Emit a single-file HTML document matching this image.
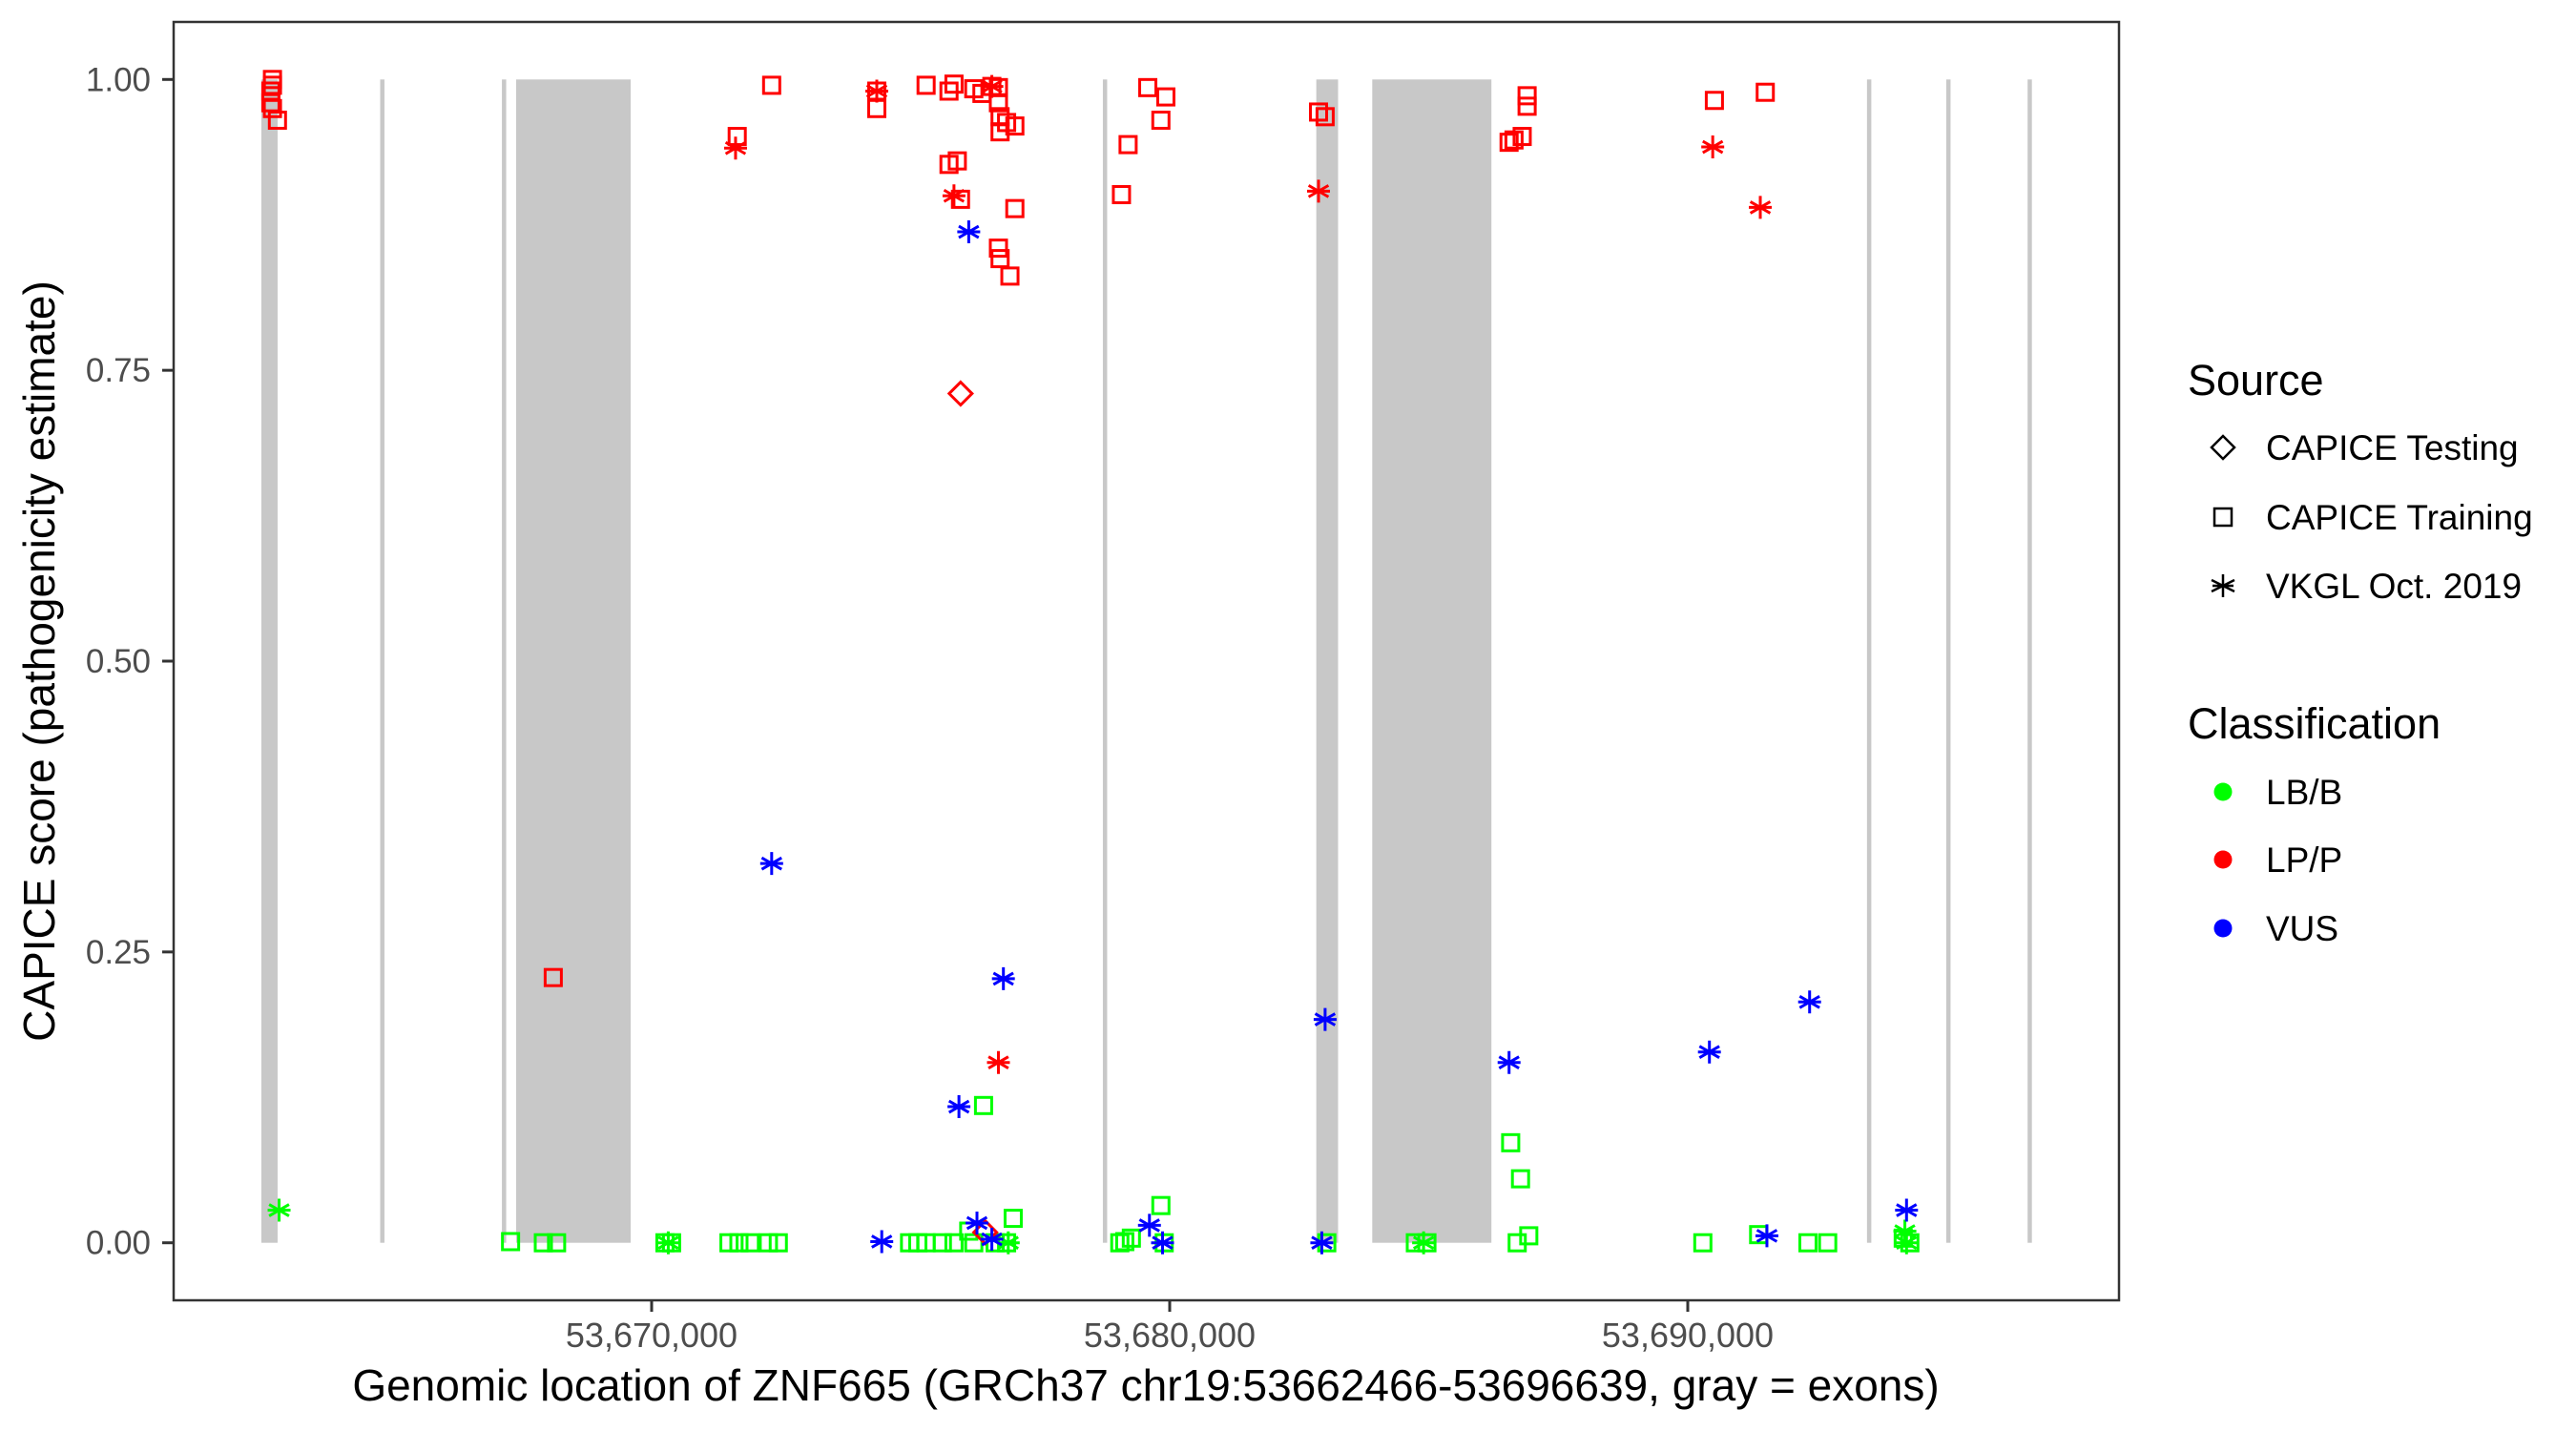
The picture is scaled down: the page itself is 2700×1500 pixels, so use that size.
<!DOCTYPE html>
<html><head><meta charset="utf-8">
<style>
html,body{margin:0;padding:0;background:#fff;}
svg{display:block;font-family:"Liberation Sans",Arial,sans-serif;}
</style></head>
<body>
<svg id="chart" width="2700" height="1500" viewBox="0 0 2700 1500" xmlns="http://www.w3.org/2000/svg">
  <rect x="0" y="0" width="2700" height="1500" fill="#fff"/>
  <g id="exons"></g>
  <g id="points"></g>
  <rect x="182" y="23" width="2039" height="1340" fill="none" stroke="#333" stroke-width="2.5"/>
  <g id="yaxis"></g>
  <g id="xaxis"></g>
  <text x="1201" y="1468" font-size="46" text-anchor="middle" fill="#000">Genomic location of ZNF665 (GRCh37 chr19:53662466-53696639, gray = exons)</text>
  <text transform="translate(57,693) rotate(-90)" font-size="46" text-anchor="middle" fill="#000">CAPICE score (pathogenicity estimate)</text>
  <g id="legend">
    <text x="2293" y="414" font-size="45" fill="#000">Source</text>
    <g>
      <path d="M2330 457 L2342 469 L2330 481 L2318 469 Z" fill="none" stroke="#000" stroke-width="2.5"/>
      <text x="2375" y="482" font-size="37" fill="#000">CAPICE Testing</text>
    </g>
    <g>
      <rect x="2321" y="533" width="18" height="18" fill="none" stroke="#000" stroke-width="2.5"/>
      <text x="2375" y="555" font-size="37" fill="#000">CAPICE Training</text>
    </g>
    <g>
      <path d="M2330 602 V626 M2318 608 L2342 620 M2318 620 L2342 608 M2319 614 H2341" stroke="#000" stroke-width="2.5"/>
      <text x="2375" y="627" font-size="37" fill="#000">VKGL Oct. 2019</text>
    </g>
    <text x="2293" y="774" font-size="45" fill="#000">Classification</text>
    <g>
      <circle cx="2330" cy="830" r="9.5" fill="#00FF00"/>
      <text x="2375" y="843" font-size="37" fill="#000">LB/B</text>
    </g>
    <g>
      <circle cx="2330" cy="901" r="9.5" fill="#FF0000"/>
      <text x="2375" y="914" font-size="37" fill="#000">LP/P</text>
    </g>
    <g>
      <circle cx="2330" cy="973" r="9.5" fill="#0000FF"/>
      <text x="2375" y="986" font-size="37" fill="#000">VUS</text>
    </g>
  </g>
</svg>
<script>
// ---- data ----
const xTicks = [53670000, 53680000, 53690000];
const xTickLabels = ["53,670,000", "53,680,000", "53,690,000"];
const yTicks = [0, 0.25, 0.5, 0.75, 1];
const yTickLabels = ["0.00", "0.25", "0.50", "0.75", "1.00"];
const exonStarts = [53662466, 53664760, 53667110, 53667385, 53678710, 53682830, 53683910, 53693460, 53694990, 53696560];
const exonEnds   = [53662780, 53664840, 53667150, 53669595, 53678790, 53683250, 53686210, 53693540, 53695070, 53696639];

// LP/P squares (training)
const lpSquarePos = [53662681,53662681,53662650,53662650,53662681,53662777,53671652,53672317,53674346,53674346,53675298,53675740,53675836,53676218,53676376,53676567,53676694,53676694,53676726,53676852,53677011,53676726,53675740,53675900,53675962,53677011,53676694,53676726,53676916,53668101,53679069,53679197,53679577,53679830,53679926,53682873,53683000,53686551,53686646,53686804,53686899,53686899,53690514,53691496];
const lpSquareScore = [1.0,0.995,0.99,0.98,0.975,0.965,0.951,0.995,0.99,0.975,0.995,0.99,0.996,0.992,0.988,0.994,0.993,0.98,0.968,0.963,0.96,0.955,0.927,0.93,0.897,0.889,0.855,0.846,0.831,0.228,0.901,0.944,0.993,0.965,0.985,0.972,0.968,0.946,0.948,0.951,0.986,0.977,0.982,0.989];
// LP/P stars (VKGL)
const lpStarPos = [53671620,53674346,53675836,53676567,53676694,53682873,53690482,53691400];
const lpStarScore = [0.941,0.99,0.9,0.994,0.155,0.904,0.942,0.89];
// LP/P diamonds (testing)
const lpDiamondPos = [53675964,53676439];
const lpDiamondScore = [0.73,0.009];
// VUS stars
const vusStarPos = [53676121,53672317,53676790,53675932,53676280,53676567,53674442,53679609,53679862,53682936,53683000,53686551,53690418,53692352,53691528,53694223];
const vusStarScore = [0.869,0.326,0.227,0.117,0.017,0.003,0.001,0.015,0.0,0.0,0.192,0.155,0.164,0.207,0.006,0.028];
// LB/B stars
const lbStarPos = [53662809,53670321,53676884,53684901,53694191,53694223];
const lbStarScore = [0.028,0.0,0.0,0.0,0.01,0.0];
// LB/B squares
const lbSquarePos = [53667277,53667910,53668165,53670257,53670385,53671493,53671685,53671903,53672254,53672445,53674979,53675138,53675298,53675612,53675836,53676121,53676218,53676407,53676631,53676852,53676979,53679037,53679133,53679260,53679830,53679894,53683032,53684742,53684965,53686582,53686772,53686708,53686931,53690291,53691368,53692320,53692701,53694159,53694287];
const lbSquareScore = [0.001,0.0,0.0,0.0,0.0,0.0,0.0,0.0,0.0,0.0,0.0,0.0,0.0,0.0,0.0,0.01,0.0,0.118,0.0,0.0,0.021,0.0,0.001,0.004,0.032,0.0,0.0,0.0,0.0,0.086,0.055,0.0,0.006,0.0,0.007,0.0,0.0,0.004,0.0];

// ---- scales ----
const NS = "http://www.w3.org/2000/svg";
const X0 = 53670000, XPX0 = 683, XK = 543/10000;
function sx(g){ return XPX0 + (g - X0) * XK; }
const Y0PX = 1302.7, YSPAN = 1219.4;
function sy(v){ return Y0PX - v * YSPAN; }
function mk(tag, attrs, parent){
  const e = document.createElementNS(NS, tag);
  for (const k in attrs) e.setAttribute(k, attrs[k]);
  parent.appendChild(e);
  return e;
}

// exons
const exG = document.getElementById('exons');
for (let i = 0; i < exonStarts.length; i++) {
  const x1 = sx(exonStarts[i]), x2 = sx(exonEnds[i]);
  const w = Math.max(x2 - x1, 4.5);
  const r = mk('rect', {x: x1, y: sy(1), width: w, height: sy(0) - sy(1), fill: '#c8c8c8'}, exG);
  
  
}

// axes
const yG = document.getElementById('yaxis');
yTicks.forEach((v, i) => {
  const y = sy(v);
  const t = mk('line', {x1: 170, x2: 182, y1: y, y2: y, stroke: '#333', 'stroke-width': 3}, yG);
  
  
  const l = mk('text', {x: 158, y: y + 12, 'font-size': 35, 'text-anchor': 'end', fill: '#4d4d4d'}, yG);
  l.textContent = yTickLabels[i];
  
  
});
const xG = document.getElementById('xaxis');
xTicks.forEach((v, i) => {
  const x = sx(v);
  const t = mk('line', {x1: x, x2: x, y1: 1363, y2: 1375, stroke: '#333', 'stroke-width': 3}, xG);
  
  
  const l = mk('text', {x: x, y: 1412, 'font-size': 36, 'text-anchor': 'middle', fill: '#4d4d4d'}, xG);
  l.textContent = xTickLabels[i];
  
  
});

// markers
const pG = document.getElementById('points');
function square(x, y, c){
  return mk('rect', {x: x - 8.5, y: y - 8.5, width: 17, height: 17, fill: 'none', stroke: c, 'stroke-width': 3}, pG);
}
function star(x, y, c){
  const r = 12, d = 10.4, h = 6;
  return mk('path', {d: `M${x} ${y-r}V${y+r}M${x-d} ${y-h}L${x+d} ${y+h}M${x-d} ${y+h}L${x+d} ${y-h}M${x-r} ${y}H${x+r}`, stroke: c, 'stroke-width': 3, fill: 'none'}, pG);
}
function diamond(x, y, c){
  const r = 12;
  return mk('path', {d: `M${x} ${y-r}L${x+r} ${y}L${x} ${y+r}L${x-r} ${y}Z`, stroke: c, 'stroke-width': 3, fill: 'none'}, pG);
}
function drawSeries(pos, score, fn, color, name){
  for (let i = 0; i < pos.length; i++) {
    const e = fn(sx(pos[i]), sy(score[i]), color);
    
    
  }
}
drawSeries(lbSquarePos, lbSquareScore, square, '#00FF00', 'lb-b-training-point');
drawSeries(lpSquarePos, lpSquareScore, square, '#FF0000', 'lp-p-training-point');
drawSeries(lbStarPos, lbStarScore, star, '#00FF00', 'lb-b-vkgl-point');
drawSeries(lpStarPos, lpStarScore, star, '#FF0000', 'lp-p-vkgl-point');
drawSeries(lpDiamondPos, lpDiamondScore, diamond, '#FF0000', 'lp-p-testing-point');
drawSeries(vusStarPos, vusStarScore, star, '#0000FF', 'vus-vkgl-point');
</script>
</body></html>
